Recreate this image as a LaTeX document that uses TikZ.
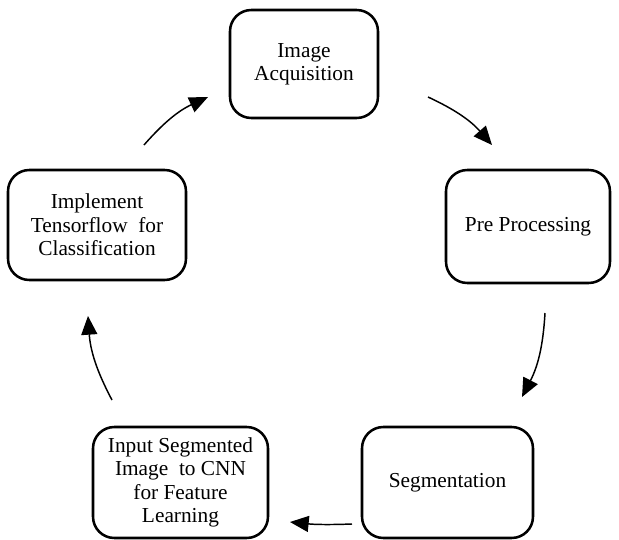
\documentclass[tikz,border=0pt]{standalone}
\usepackage{fontspec}
\setmainfont{Liberation Serif}
\usetikzlibrary{arrows.meta}
\begin{document}
\begin{tikzpicture}[x=0.75pt,y=-0.75pt,
  stagebox/.style={draw=black, line width=1.9pt, rounded corners=16pt, align=center,
    inner sep=0pt, font=\fontsize{16}{17.5}\selectfont},
  flow/.style={line width=1.1pt, -{Triangle[length=14pt,width=12pt]}}]
\useasboundingbox (0,0) rectangle (619,540);
\node[stagebox, minimum width=148*0.75pt, minimum height=108*0.75pt] (acq) at (304,64) {Image\\Acquisition};
\node[stagebox, minimum width=164*0.75pt, minimum height=113*0.75pt] (pre) at (528,226.5) {Pre Processing};
\node[stagebox, minimum width=171*0.75pt, minimum height=111*0.75pt] (seg) at (447.5,482.5) {Segmentation};
\node[stagebox, minimum width=175*0.75pt, minimum height=111*0.75pt] (cnn) at (180.5,482.5) {Input Segmented\\Image\ \ to CNN\\for Feature\\Learning};
\node[stagebox, minimum width=178*0.75pt, minimum height=110*0.75pt] (tf) at (97,225) {Implement\\Tensorflow\ \ for\\Classification};
\coordinate (a1s) at (428,97);  \coordinate (a1e) at (492,145);
\coordinate (a2s) at (545,313); \coordinate (a2e) at (522,397);
\coordinate (a3s) at (352,524); \coordinate (a3e) at (290,522);
\coordinate (a4s) at (112,400); \coordinate (a4e) at (88,316);
\coordinate (a5s) at (144,145); \coordinate (a5e) at (208,97);
\draw[flow] (a1s) to[bend left=12] (a1e);
\draw[flow] (a2s) to[bend left=12] (a2e);
\draw[flow] (a3s) to[bend left=4] (a3e);
\draw[flow] (a4s) to[bend left=12] (a4e);
\draw[flow] (a5s) to[bend left=12] (a5e);
\end{tikzpicture}
\end{document}
